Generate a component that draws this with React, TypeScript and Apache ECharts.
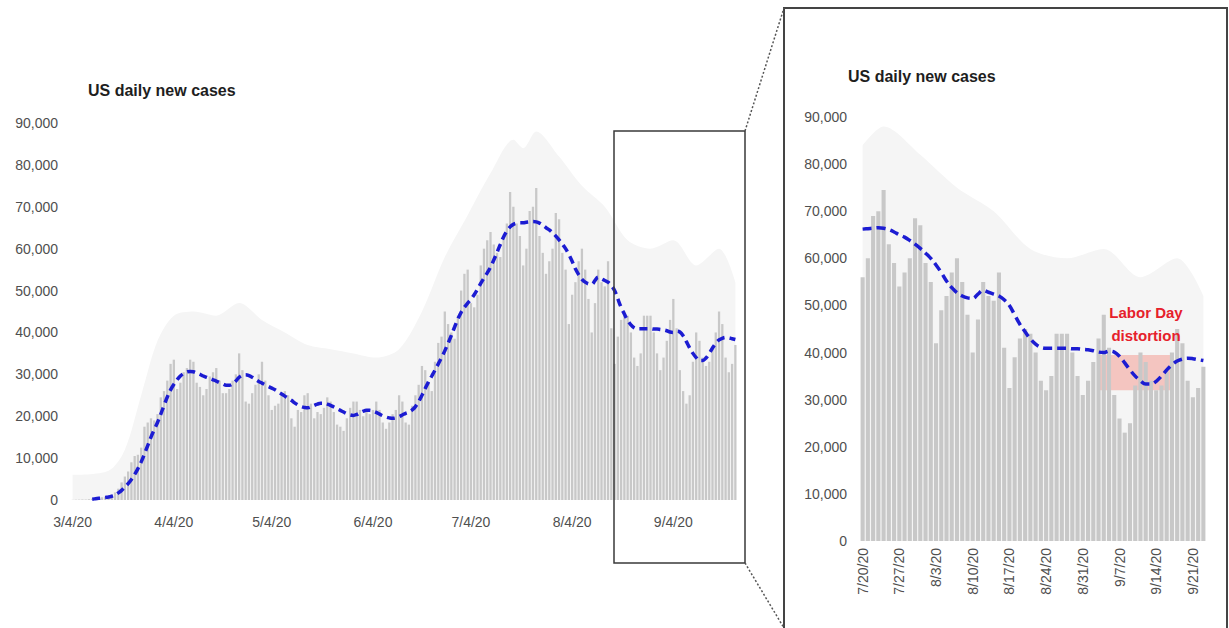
import React, { useEffect, useRef } from 'react';
import * as echarts from 'echarts';

// ---------- daily new cases ----------
const casesMar = [30, 60, 80, 120, 110, 180, 300, 400, 500, 650, 750, 850, 1300, 1800, 2700, 4200, 5600, 6800, 9000, 10500, 10800, 12500, 17500, 18500, 19500, 19000, 20500, 24500];
const casesApr = [26000, 28500, 32500, 33500, 26500, 28000, 30500, 31500, 33500, 33000, 28000, 27000, 25000, 26500, 29500, 30500, 31500, 28500, 25500, 25500, 26500, 28500, 30000, 35000, 31000, 23500, 23000, 25500, 27500, 30000];
const casesMay = [33000, 28500, 25000, 21500, 22500, 23000, 25500, 26000, 25000, 19500, 17500, 21500, 21000, 25000, 25500, 23000, 19500, 21000, 20500, 22000, 24500, 23500, 21000, 18000, 17500, 16500, 19500, 22000, 23500, 23500, 21500];
const casesJun = [20000, 21000, 20500, 21500, 23500, 21500, 18500, 17000, 18500, 20500, 21500, 25000, 23500, 18500, 18000, 22500, 25000, 27500, 32000, 31000, 28000, 26000, 33000, 37500, 39000, 45000, 42000, 40000, 38500, 44000];
const casesJul = [50000, 54000, 55000, 47000, 46000, 49000, 56000, 60000, 62000, 64000, 61000, 59000, 58000, 63000, 66000, 73500, 70000, 66000, 63000, 56000, 60000, 69000, 70000, 74500, 63000, 59000, 54000, 57000, 60000, 68500, 67000];
const casesAug = [59000, 55000, 42000, 49000, 52000, 57000, 60000, 55000, 48000, 40000, 47000, 55000, 52000, 51000, 57000, 41000, 32500, 39000, 43000, 45000, 44000, 40000, 34000, 32000, 35000, 44000, 44000, 44000, 40000, 35000, 31000];
const casesSep = [34000, 38000, 43000, 48000, 41000, 31000, 26000, 23000, 25000, 33000, 40000, 38000, 34000, 32000, 33000, 36000, 40000, 45000, 42000, 34000, 30500, 32500, 37000];

// ---------- 7-day average line ----------
const avgMar = [null, null, null, null, null, null, 200, 300, 400, 500, 600, 700, 900, 1200, 1700, 2300, 3100, 3900, 4900, 6100, 7500, 9100, 11000, 13000, 15000, 16800, 18500, 20500];
const avgApr = [22600, 24600, 26300, 27600, 28700, 29600, 30200, 30600, 30700, 30600, 30300, 30000, 29600, 29300, 29000, 28700, 28400, 28000, 27700, 27400, 27400, 27700, 28400, 29300, 29800, 29900, 29700, 29300, 28800, 28300];
const avgMay = [27900, 27500, 27100, 26700, 26300, 25800, 25300, 24800, 24300, 23800, 23200, 22700, 22300, 22100, 22000, 22200, 22600, 22900, 23100, 23100, 22900, 22600, 22200, 21800, 21400, 21000, 20600, 20300, 20200, 20400, 20800];
const avgJun = [21200, 21400, 21400, 21200, 20900, 20500, 20100, 19800, 19600, 19500, 19600, 19900, 20300, 20700, 21000, 21500, 22300, 23500, 25000, 26600, 28200, 29600, 31000, 32500, 34000, 35600, 37400, 39300, 41300, 43200];
const avgJul = [44800, 46000, 47000, 47900, 49000, 50300, 51700, 53000, 54200, 55600, 57300, 59100, 61000, 62800, 64200, 65200, 65800, 66100, 66200, 66200, 66300, 66400, 66500, 66400, 66100, 65600, 65000, 64500, 63800, 63000, 62100];
const avgAug = [61100, 60000, 58600, 57000, 55200, 53800, 52700, 52000, 51600, 51500, 52400, 53200, 52800, 52400, 52000, 51200, 50000, 48000, 46000, 44400, 42900, 41800, 41100, 40900, 40900, 40900, 40900, 40900, 40800, 40800, 40700];
const avgSep = [40600, 40400, 40100, 40000, 40300, 40100, 39200, 37800, 36300, 35000, 34000, 33300, 33300, 33900, 35000, 36300, 37400, 38200, 38600, 38800, 38700, 38500, 38300];

// ---------- faint haze above the bars (envelope) ----------
const hazeDates = ['3/4/20', '3/15/20', '3/20/20', '3/25/20', '3/30/20', '4/4/20', '4/10/20', '4/17/20', '4/24/20', '5/1/20', '5/8/20', '5/15/20', '5/22/20', '5/29/20', '6/5/20', '6/12/20', '6/19/20', '6/26/20', '7/3/20', '7/10/20', '7/17/20', '7/20/20', '7/24/20', '7/31/20', '8/7/20', '8/14/20', '8/21/20', '8/28/20', '9/4/20', '9/11/20', '9/18/20', '9/23/20'];
const hazeValues = [6000, 7000, 12000, 25000, 38000, 44000, 45000, 44000, 47000, 43000, 40000, 37000, 36000, 35000, 34000, 36000, 45000, 58000, 68000, 78000, 86000, 84000, 88000, 82000, 75000, 70000, 62000, 60000, 62000, 56000, 60000, 52000];

const ZOOM_START = '7/20/20';
const LABOR_FROM = '9/6/20';
const LABOR_TO = '9/18/20';
const LEFT_BAND = [32500, 40000];
const RIGHT_BAND = [32000, 39500];
const TITLE = 'US daily new cases';
const NOTE = 'Labor Day\ndistortion';

const cases = [...casesMar, ...casesApr, ...casesMay, ...casesJun, ...casesJul, ...casesAug, ...casesSep];
const avg = [...avgMar, ...avgApr, ...avgMay, ...avgJun, ...avgJul, ...avgAug, ...avgSep];

const dates: string[] = cases.map((_, i) => {
  const d = new Date(2020, 2, 4 + i);
  return `${d.getMonth() + 1}/${d.getDate()}/20`;
});

const FONT = 'Liberation Sans, Arial, sans-serif';
const LABEL = '#4f4f4f';
const BAR = '#c8c8c8';
const LINE = '#1c1cd2';
const HAZE = '#f5f5f5';

export default function App() {
  const ref = useRef<HTMLDivElement>(null);
  useEffect(() => {
    if (!ref.current) return;
    const chart = echarts.init(ref.current, null, { renderer: 'svg' });
    const zi = dates.indexOf(ZOOM_START);
    const zDates = dates.slice(zi);
    const zCases = cases.slice(zi);
    const zAvg = avg.slice(zi);
    const haze = hazeDates.map((d, i) => [d, hazeValues[i]]);
    const zHaze = haze.filter((p) => dates.indexOf(p[0] as string) >= zi);
    const yAxisBase = {
      type: 'value',
      min: 0,
      max: 90000,
      interval: 10000,
      splitLine: { show: false },
      axisLine: { show: false },
      axisTick: { show: false },
      axisLabel: {
        color: LABEL,
        fontSize: 14,
        fontFamily: FONT,
        margin: 13,
        formatter: (v: number) => v.toLocaleString('en-US'),
      },
    };
    const titleStyle = { fontSize: 16, fontWeight: 'bold', color: '#1e1e1e', fontFamily: FONT };
    chart.setOption({
      animation: false,
      backgroundColor: '#ffffff',
      title: [
        { text: TITLE, left: 88, top: 82, padding: 0, textStyle: titleStyle },
        { text: TITLE, left: 848, top: 68, padding: 0, textStyle: titleStyle },
      ],
      grid: [
        { left: 71, right: 492, top: 123, bottom: 128 },
        { left: 860, right: 23, top: 117, bottom: 87 },
      ],
      xAxis: [
        {
          type: 'category',
          gridIndex: 0,
          data: dates,
          axisLine: { show: false },
          axisTick: { show: false },
          axisLabel: {
            color: LABEL,
            fontSize: 14,
            fontFamily: FONT,
            margin: 15,
            interval: (_i: number, v: string) => v.split('/')[1] === '4',
          },
        },
        {
          type: 'category',
          gridIndex: 1,
          data: zDates,
          axisLine: { show: false },
          axisTick: { show: false },
          axisLabel: {
            color: LABEL,
            fontSize: 14,
            fontFamily: FONT,
            margin: 7,
            rotate: 90,
            interval: 6,
          },
        },
      ],
      yAxis: [
        { ...yAxisBase, gridIndex: 0 },
        { ...yAxisBase, gridIndex: 1 },
      ],
      series: [
        {
          type: 'line',
          xAxisIndex: 0,
          yAxisIndex: 0,
          data: haze,
          smooth: 0.3,
          symbol: 'none',
          lineStyle: { width: 0 },
          areaStyle: { color: HAZE, opacity: 1 },
          z: 0,
          silent: true,
        },
        {
          type: 'bar',
          xAxisIndex: 0,
          yAxisIndex: 0,
          data: cases,
          barCategoryGap: '30%',
          itemStyle: { color: BAR },
          z: 2,
          markArea: {
            silent: true,
            itemStyle: { color: 'rgba(244,150,140,0.5)' },
            data: [[{ xAxis: LABOR_FROM, yAxis: LEFT_BAND[0] }, { xAxis: LABOR_TO, yAxis: LEFT_BAND[1] }]],
          },
        },
        {
          type: 'line',
          xAxisIndex: 0,
          yAxisIndex: 0,
          data: avg,
          smooth: 0.4,
          symbol: 'none',
          lineStyle: { color: LINE, width: 3.5, type: [8, 5] },
          z: 5,
        },
        {
          type: 'line',
          xAxisIndex: 1,
          yAxisIndex: 1,
          data: zHaze,
          smooth: 0.3,
          symbol: 'none',
          lineStyle: { width: 0 },
          areaStyle: { color: HAZE, opacity: 1 },
          z: 0,
          silent: true,
        },
        {
          type: 'bar',
          xAxisIndex: 1,
          yAxisIndex: 1,
          data: zCases,
          barCategoryGap: '22%',
          itemStyle: { color: BAR },
          z: 2,
          markArea: {
            silent: true,
            itemStyle: { color: 'rgba(244,150,140,0.5)' },
            data: [[{ xAxis: LABOR_FROM, yAxis: RIGHT_BAND[0] }, { xAxis: LABOR_TO, yAxis: RIGHT_BAND[1] }]],
          },
        },
        {
          type: 'line',
          xAxisIndex: 1,
          yAxisIndex: 1,
          data: zAvg,
          smooth: 0.4,
          symbol: 'none',
          lineStyle: { color: LINE, width: 3.5, type: [9, 5] },
          z: 5,
        },
      ],
      graphic: [
        { type: 'rect', z: 100, shape: { x: 614, y: 131, width: 131, height: 432 }, style: { fill: 'none', stroke: '#3a3a3a', lineWidth: 1.5 } },
        { type: 'rect', z: 100, shape: { x: 784, y: 8, width: 443, height: 640 }, style: { fill: 'none', stroke: '#444444', lineWidth: 2 } },
        { type: 'line', z: 100, shape: { x1: 745, y1: 131, x2: 784, y2: 8 }, style: { stroke: '#555555', lineWidth: 1.5, lineDash: [2, 2] } },
        { type: 'line', z: 100, shape: { x1: 745, y1: 563, x2: 784, y2: 628 }, style: { stroke: '#555555', lineWidth: 1.5, lineDash: [2, 2] } },
        {
          type: 'text',
          z: 100,
          x: 1146,
          y: 301,
          style: {
            text: NOTE,
            fill: '#e6202b',
            font: `bold 15px ${FONT}`,
            textAlign: 'center',
            lineHeight: 23,
          },
        },
      ],
    });
    return () => chart.dispose();
  }, []);
  return <div ref={ref} style={{ position: 'absolute', left: 0, top: 0, width: 1229, height: 628 }} />;
}
